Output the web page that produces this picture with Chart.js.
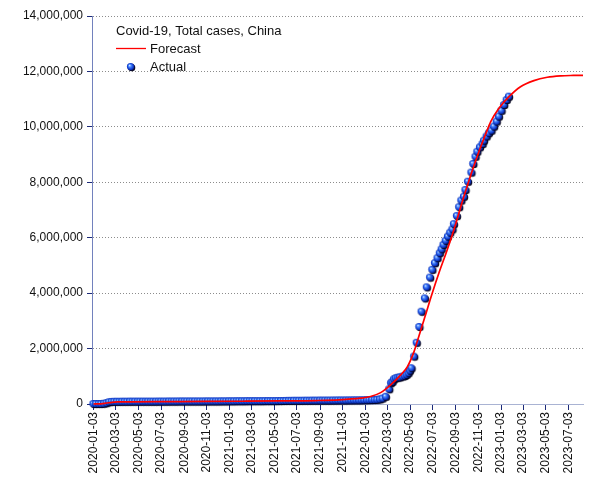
<!DOCTYPE html>
<html><head><meta charset="utf-8">
<script src="https://cdn.jsdelivr.net/npm/chart.js@4/dist/chart.umd.min.js"></script>
<style>html,body{margin:0;padding:0;background:#fff}#wrap{width:605px;height:480px}</style>
</head><body><div id="wrap"><canvas id="c" width="605" height="480"></canvas></div>
<script>
const chartTitle = 'Covid-19, Total cases, China';
const seriesNames = ['Forecast', 'Actual'];
const startDate = '2020-01-03'; // day 0 of the x values below
const tickLabels = ['2020-01-03','2020-03-03','2020-05-03','2020-07-03','2020-09-03','2020-11-03',
  '2021-01-03','2021-03-03','2021-05-03','2021-07-03','2021-09-03','2021-11-03',
  '2022-01-03','2022-03-03','2022-05-03','2022-07-03','2022-09-03','2022-11-03',
  '2023-01-03','2023-03-03','2023-05-03','2023-07-03'];
const yTicks = [0, 2000000, 4000000, 6000000, 8000000, 10000000, 12000000, 14000000];

// Actual: days since 2020-01-03, total cases
const actualDays = [0,7,14,21,28,35,42,49,56,63,70,77,84,91,98,105,112,119,126,133,140,147,154,161,168,175,
  182,189,196,203,210,217,224,231,238,245,252,259,266,273,280,287,294,301,308,315,322,329,336,343,350,357,
  364,371,378,385,392,399,406,413,420,427,434,441,448,455,462,469,476,483,490,497,504,511,518,525,532,539,
  546,553,560,567,574,581,588,595,602,609,616,623,630,637,644,651,658,665,672,679,686,693,700,707,714,721,
  728,735,742,749,756,763,770,777,
  786,795,800,804,808,813,819,824,831,837,842,847,851,855,862,869,876,882,891,896,905,911,918,925,931,936,
  941,947,953,959,965,969,977,983,989,996,1000,1007,1016,1021,1027,1032,1039,1046,1050,1057,1063,1070,1077,
  1084,1090,1097,1104,1111,1117];
const actualCases = [0,40,60,900,9800,31000,64000,76000,79000,80500,81000,81500,82500,83000,83500,84000,84300,
  84500,84600,84700,84800,84900,85000,85200,85500,85800,86000,86500,87300,88000,88800,89500,90000,90400,90700,
  91000,91200,91400,91600,91800,92000,92200,92400,92600,92800,93100,93500,94000,94700,95400,96000,96600,97200,
  98000,98800,99600,100300,100900,101400,101800,102100,102400,102700,103000,103200,103500,103800,104100,104400,
  104800,105300,106000,107500,110000,112000,113500,114500,115300,116000,116600,117200,117800,118500,119400,
  120200,120800,121300,121800,122300,122800,123400,124000,124700,125500,126300,127000,127700,128400,129200,
  130000,131000,132000,133000,134500,136000,138000,140000,142500,146000,152000,165000,195000,
  260000,530000,750000,800000,890000,930000,950000,960000,990000,1010000,1050000,1110000,1200000,1290000,
  1710000,2210000,2780000,3330000,3810000,4210000,4560000,4840000,5080000,5260000,5440000,5580000,5740000,
  5890000,6040000,6180000,6300000,6490000,6780000,7100000,7340000,7480000,7720000,8020000,8350000,8660000,
  8920000,9100000,9260000,9380000,9500000,9650000,9770000,9860000,10010000,10190000,10370000,10580000,
  10790000,10970000,11090000];

// Forecast: days since 2020-01-03, total cases
const forecastDays = [0,20,35,50,65,100,200,300,400,500,600,660,718,745,772,799,826,844,862,871,890,910,930,
  948,962,975,993,1008,1014,1041,1062,1068,1090,1117,1148,1184,1220,1256,1290,1316];
const forecastCases = [0,8000,35000,62000,75000,80000,86000,92000,100000,110000,125000,150000,210000,270000,
  410000,690000,1050000,1350000,1900000,2280000,3100000,3970000,4780000,5450000,6000000,6550000,7370000,
  8000000,8250000,9280000,10000000,10190000,10670000,11090000,11450000,11670000,11790000,11840000,11855000,
  11860000];

const dayOf = s => Math.round((Date.parse(s + 'T00:00:00Z') - Date.parse(startDate + 'T00:00:00Z')) / 86400000);
const tickDays = tickLabels.map(dayOf);

function makeSphere() {
  const c = document.createElement('canvas');
  c.width = 12; c.height = 12;
  const g = c.getContext('2d');
  g.fillStyle = 'rgba(0,0,30,0.95)';
  g.beginPath(); g.arc(6.7, 6.7, 3.6, 0, Math.PI * 2); g.fill();
  const gr = g.createRadialGradient(4.5, 4.3, 0.2, 5.6, 5.6, 3.9);
  gr.addColorStop(0, '#d2e8ff');
  gr.addColorStop(0.3, '#4f8cff');
  gr.addColorStop(0.7, '#1444d8');
  gr.addColorStop(1, '#04198a');
  g.fillStyle = gr;
  g.beginPath(); g.arc(5.6, 5.6, 3.7, 0, Math.PI * 2); g.fill();
  return c;
}
const sphere = makeSphere();

const legendPlugin = {
  id: 'insideLegend',
  afterDraw(chart) {
    const ctx = chart.ctx;
    const ds = chart.data.datasets;
    ctx.save();
    ctx.font = '13px "Liberation Sans", Arial, sans-serif';
    ctx.fillStyle = '#111';
    ctx.textBaseline = 'middle';
    ctx.textAlign = 'left';
    ctx.fillText(chartTitle, 116, 31);
    ctx.strokeStyle = ds[0].borderColor;
    ctx.lineWidth = 1.3;
    ctx.beginPath(); ctx.moveTo(116, 48.5); ctx.lineTo(146, 48.5); ctx.stroke();
    ctx.fillText(ds[0].label, 150, 49);
    ctx.drawImage(ds[1].pointStyle, 131 - 6, 67 - 6);
    ctx.fillText(ds[1].label, 150, 67);
    ctx.restore();
  }
};

Chart.defaults.font.family = '"Liberation Sans", Arial, sans-serif';
Chart.defaults.font.size = 12;
Chart.defaults.color = '#111';

new Chart(document.getElementById('c'), {
  type: 'line',
  data: {
    datasets: [
      {
        label: seriesNames[0],
        data: forecastDays.map((d, i) => ({x: d, y: forecastCases[i]})),
        borderColor: '#ff0000',
        borderWidth: 1.7,
        pointRadius: 0,
        cubicInterpolationMode: 'monotone',
        fill: false,
        order: 0,
        clip: false
      },
      {
        label: seriesNames[1],
        data: actualDays.map((d, i) => ({x: d, y: actualCases[i]})),
        showLine: false,
        pointStyle: sphere,
        pointRadius: 4,
        order: 1,
        clip: false
      }
    ]
  },
  options: {
    responsive: false,
    animation: false,
    events: [],
    layout: {padding: {top: 16, right: 22, left: 0, bottom: 0}},
    plugins: {legend: {display: false}, tooltip: {enabled: false}},
    scales: {
      x: {
        type: 'linear', min: -4, max: 1316,
        afterBuildTicks: s => { s.ticks = tickDays.map(v => ({value: v})); },
        afterFit: s => { s.height = 76; },
        ticks: {autoSkip: false, maxRotation: 90, minRotation: 90, padding: 2,
          callback: (v, i) => tickLabels[i]},
        grid: {drawOnChartArea: false, drawTicks: true, tickLength: 6, tickColor: '#1c2a78', tickWidth: 1, tickBorderDash: []},
        border: {display: true, color: '#a9b3d3', width: 1}
      },
      y: {
        min: 0, max: 14000000,
        afterBuildTicks: s => { s.ticks = yTicks.map(v => ({value: v})); },
        afterFit: s => { s.width = 92; },
        ticks: {padding: 4, callback: v => v.toLocaleString('en-US')},
        grid: {color: '#8c8c8c', lineWidth: 1, tickLength: 5, tickColor: '#1c2a78', tickWidth: 1, tickBorderDash: []},
        border: {display: true, color: '#7281bd', width: 1, dash: [1, 2]}
      }
    }
  },
  plugins: [legendPlugin]
});
</script>
</body></html>
